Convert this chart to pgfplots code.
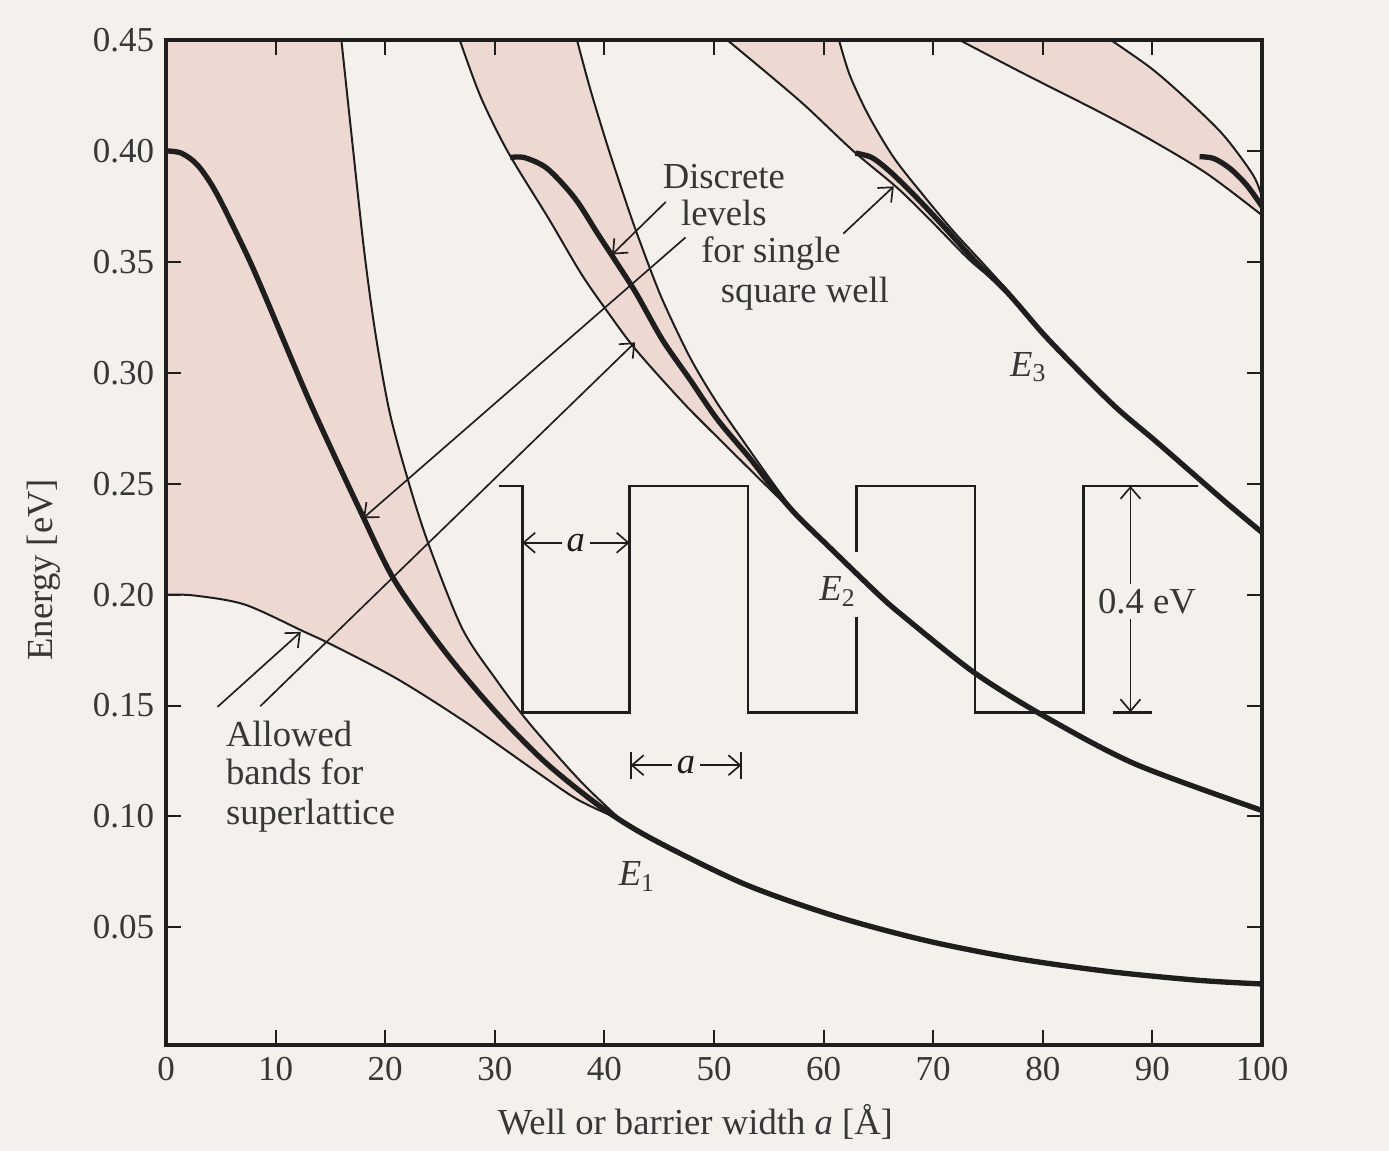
\documentclass[border=0pt]{standalone}
\usepackage{fontspec}
\setmainfont{Liberation Serif}
\usepackage{pgfplots}
\pgfplotsset{compat=1.18}
\usepgfplotslibrary{fillbetween}
\usetikzlibrary{arrows.meta}

\definecolor{paper}{RGB}{244,241,236}
\definecolor{band}{RGB}{238,216,210}
\definecolor{ink}{RGB}{30,30,30}
\definecolor{txt}{RGB}{55,55,55}
\pagecolor{paper}

\begin{document}
\begin{tikzpicture}
% fixes the picture size (the scan's margins)
\path (-49.8pt,-29.7pt) rectangle (366.9pt,313.5pt);
\begin{axis}[
    at={(0pt,0pt)}, anchor=south west, scale only axis,
    width=328.8pt, height=301.5pt,
    xmin=0, xmax=100, ymin=-0.003, ymax=0.45,
    axis on top,
    xtick={0,10,...,100},
    ytick={0.05,0.10,0.15,0.20,0.25,0.30,0.35,0.40,0.45},
    scaled y ticks=false,
    yticklabel style={/pgf/number format/fixed,/pgf/number format/fixed zerofill,/pgf/number format/precision=2},
    /pgf/number format/assume math mode=true,
    tick label style={font=\fontsize{10.5}{12}\selectfont, text=txt},
    label style={font=\fontsize{11}{13}\selectfont, text=txt},
    major tick length=4.5pt,
    every tick/.style={ink, line width=0.6pt},
    axis line style={ink, line width=1pt},
    xlabel={Well or barrier width \textit{a} [Å]},
    ylabel={Energy [eV]},
    xlabel style={at={(axis description cs:0.483,-0.077)}, anchor=center},
    ylabel style={at={(axis description cs:-0.112,0.473)}, anchor=center},
    edge/.style={ink, line width=0.6pt, smooth},
    level/.style={ink, line width=1.6pt, smooth},
  ]
  % corner of band 1 above its upper edge (x < 16 reaches past 0.45)
  \addplot[fill=band, draw=none] coordinates {(0,0.200)(0,0.45)(16.0,0.45)(8.5,0.32)} -- cycle;

  % ---- band edges (thin) ----
  \addplot[edge, name path=b1lo] coordinates {
    (0,0.200)(2.6,0.1996)(7.2,0.1955)(12.6,0.1833)(15.1,0.1775)(21.1,0.162)
    (27.4,0.1423)(33.7,0.1205)(37.6,0.1075)(41.5,0.0985)};
  \addplot[edge, name path=b1hi] coordinates {
    (16.0,0.45)(17.1,0.3992)(18.1,0.3542)(19.1,0.318)(20.4,0.2823)(22.1,0.2513)
    (23.9,0.2235)(27.0,0.185)(30.1,0.1618)(33.2,0.1417)(37.8,0.116)(41.5,0.0985)};
  \addplot[edge, name path=b2lo] coordinates {
    (26.8,0.45)(28.7,0.4245)(31.2,0.3995)(34.9,0.3696)(37.9,0.3445)(40.4,0.3267)
    (42.9,0.3102)(47.1,0.287)(50.3,0.271)(54.9,0.2485)(57.5,0.236)};
  \addplot[edge, name path=b2hi] coordinates {
    (37.5,0.45)(38.7,0.428)(40.3,0.402)(41.9,0.378)(43.1,0.361)(45.2,0.334)
    (47.8,0.307)(50.2,0.287)(52.7,0.269)(55.2,0.2515)(57.5,0.236)};
  \addplot[edge, name path=b3lo] coordinates {
    (51.2,0.45)(55.1,0.434)(58.4,0.420)(62.7,0.400)(66.8,0.383)(70.1,0.367)
    (73.5,0.350)(77,0.336)};
  \addplot[edge, name path=b3hi] coordinates {
    (61.4,0.45)(62.4,0.434)(64.1,0.416)(66.4,0.397)(69.1,0.380)(71.8,0.364)
    (74.5,0.3495)(77,0.336)};
  \addplot[edge, name path=b4lo] coordinates {
    (72.4,0.45)(78.2,0.435)(85.0,0.418)(89.5,0.406)(94.9,0.390)(100,0.371)};
  \addplot[edge, name path=b4hi] coordinates {
    (86.2,0.45)(89.9,0.4372)(93.2,0.423)(96.5,0.407)(99.2,0.389)(100,0.379)};

  % ---- allowed bands (shaded, on the layer below the lines) ----
  \addplot[fill=band, draw=none] fill between[of=b1lo and b1hi];
  \addplot[fill=band, draw=none] fill between[of=b2lo and b2hi];
  \addplot[fill=band, draw=none] fill between[of=b3lo and b3hi];
  \addplot[fill=band, draw=none] fill between[of=b4lo and b4hi];

  % ---- single square well levels (bold) ----
  \addplot[level] coordinates {
    (0,0.400)(1.4,0.399)(2.9,0.3935)(4.6,0.381)(7.3,0.354)(9.0,0.335)(13.2,0.286)
    (17.8,0.237)(20.9,0.206)(25.5,0.174)(30.1,0.147)(34.7,0.124)(39.9,0.1035)
    (44.5,0.0895)(52.8,0.0695)(61.1,0.055)(69.4,0.0440)(77.6,0.0360)(85.9,0.0302)
    (94.1,0.0262)(100,0.0245)};
  \addplot[level] coordinates {
    (31.4,0.397)(32.7,0.397)(34.8,0.392)(37.3,0.3787)(39.4,0.3626)(41.0,0.3505)
    (42.9,0.3358)(45.3,0.3148)(47.8,0.297)(50.3,0.279)(53.3,0.2613)(55.2,0.2492)
    (57.5,0.236)(60.4,0.222)(64.8,0.201)(67.1,0.191)(73.7,0.165)(80.2,0.145)
    (88.5,0.1235)(100,0.1027)};
  \addplot[level] coordinates {
    (62.9,0.399)(64.4,0.397)(66.1,0.3905)(68.4,0.3794)(71.1,0.3652)(73.8,0.3505)
    (76.8,0.336)(80.1,0.3172)(83.5,0.2998)(86.8,0.2838)(90.2,0.2696)(93.5,0.2554)
    (96.8,0.2412)(100,0.228)};
  \addplot[level] coordinates {
    (94.3,0.3974)(95.6,0.3966)(97.1,0.392)(98.6,0.3846)(100,0.375)};

  % ---- superlattice potential sketch ----
  \addplot[ink, line width=0.8pt] coordinates {
    (30.4,0.249)(32.5,0.249)(32.5,0.147)(42.3,0.147)(42.3,0.249)(53.1,0.249)
    (53.1,0.147)(63.0,0.147)(63.0,0.190)};
  \addplot[ink, line width=0.8pt] coordinates {
    (63.0,0.219)(63.0,0.249)(73.8,0.249)(73.8,0.147)(83.7,0.147)(83.7,0.249)(94.2,0.249)};

  % ---- annotations ----
  \begin{scope}[font=\fontsize{11}{13}\selectfont, text=txt]
    \draw[ink, line width=0.5pt, {Straight Barb[length=3.5pt,width=6pt]}-{Straight Barb[length=3.5pt,width=6pt]}]
      (axis cs:32.5,0.2234) -- (axis cs:42.3,0.2234)
      node[midway, fill=paper, inner sep=1.5pt] {\textit{a}};
    \draw[ink, line width=0.5pt, {Straight Barb[length=3.5pt,width=6pt]}-{Straight Barb[length=3.5pt,width=6pt]}]
      (axis cs:42.4,0.1231) -- (axis cs:52.5,0.1231)
      node[midway, fill=paper, inner sep=1.5pt] {\textit{a}};
    \draw[ink, line width=0.6pt] (axis cs:42.4,0.117) -- (axis cs:42.4,0.129);
    \draw[ink, line width=0.6pt] (axis cs:52.5,0.117) -- (axis cs:52.5,0.129);
    \draw[ink, line width=0.5pt, {Straight Barb[length=3.5pt,width=6pt]}-{Straight Barb[length=3.5pt,width=6pt]}]
      (axis cs:88.0,0.249) -- (axis cs:88.0,0.147);
    \draw[ink, line width=0.8pt] (axis cs:86.4,0.147) -- (axis cs:90.0,0.147);
    \node[fill=paper, inner sep=1.5pt] at (axis cs:89.5,0.197) {0.4 eV};

    \draw[ink, line width=0.5pt, -{Straight Barb[length=3.5pt,width=6pt]}]
      (axis cs:47.4,0.361) -- (axis cs:18.0,0.2345);
    \draw[ink, line width=0.5pt, -{Straight Barb[length=3.5pt,width=6pt]}]
      (axis cs:45.6,0.377) -- (axis cs:40.7,0.3533);
    \draw[ink, line width=0.5pt, -{Straight Barb[length=3.5pt,width=6pt]}]
      (axis cs:61.8,0.3627) -- (axis cs:66.4,0.3840);
    \draw[ink, line width=0.5pt, -{Straight Barb[length=3.5pt,width=6pt]}]
      (axis cs:4.7,0.1494) -- (axis cs:12.3,0.1832);
    \draw[ink, line width=0.5pt, -{Straight Barb[length=3.5pt,width=6pt]}]
      (axis cs:8.6,0.1497) -- (axis cs:42.8,0.3137);

    \node[anchor=base] at (axis cs:50.9,0.3831) {Discrete};
    \node[anchor=base] at (axis cs:50.9,0.3664) {levels};
    \node[anchor=base] at (axis cs:55.2,0.3497) {for single};
    \node[anchor=base] at (axis cs:58.3,0.3318) {square well};

    \node[anchor=base west] at (axis cs:4.4,0.1314) {Allowed};
    \node[anchor=base west] at (axis cs:4.4,0.1143) {bands for};
    \node[anchor=base west] at (axis cs:4.4,0.0963) {superlattice};

    \node at (axis cs:43.0,0.073) {\textit{E}\textsubscript{1}};
    \node at (axis cs:61.3,0.2014) {\textit{E}\textsubscript{2}};
    \node at (axis cs:78.7,0.3026) {\textit{E}\textsubscript{3}};
  \end{scope}
\end{axis}
\end{tikzpicture}
\end{document}
